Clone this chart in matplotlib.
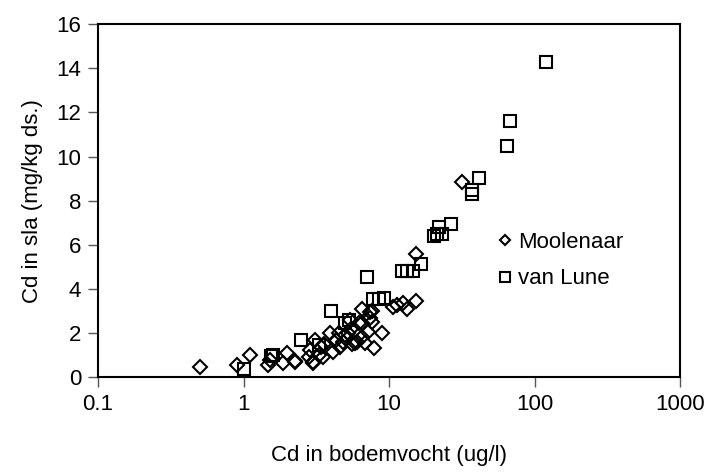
import matplotlib
matplotlib.use("Agg")
import matplotlib.pyplot as plt

# Moolenaar (open diamonds)
moolenaar_x = [0.5, 0.9, 1.1, 1.47, 1.52, 1.87, 2.0, 2.25, 2.27, 2.8, 2.85,
               3.0, 3.0, 3.1, 3.3, 3.4, 3.5, 3.6, 3.9, 4.1, 4.3, 4.5, 4.6,
               4.8, 5.0, 5.2, 5.4, 5.5, 5.6, 5.8, 6.0, 6.2, 6.5, 6.5, 6.5,
               6.8, 7.2, 7.4, 7.4, 7.6, 7.6, 7.9, 9.0, 10.6, 11.4, 12.4,
               13.3, 15.2, 15.2, 31.5]
moolenaar_y = [0.45, 0.54, 1.0, 0.54, 0.77, 0.63, 1.1, 0.72, 0.68, 0.9, 1.22,
               0.63, 0.68, 1.68, 1.0, 1.36, 0.9, 1.5, 2.0, 1.13, 1.7, 2.0,
               1.36, 1.59, 1.9, 2.0, 2.58, 2.2, 1.5, 1.54, 1.6, 2.45, 1.8,
               2.45, 3.1, 1.54, 2.05, 2.7, 2.95, 2.5, 3.0, 1.3, 2.0, 3.2,
               3.26, 3.35, 3.1, 3.45, 5.6, 8.85]

# van Lune (open squares)
vanlune_x = [1.0, 1.55, 1.6, 2.5, 3.3, 4.0, 5.0, 5.3, 7.1, 7.8, 8.5, 9.2,
             12.2, 13.3, 14.5, 16.5, 20.5, 21.5, 22.0, 23.0, 26.5, 37.0,
             37.0, 41.5, 65.0, 68.0, 119.0]
vanlune_y = [0.35, 0.95, 1.0, 1.7, 1.45, 3.0, 2.45, 2.6, 4.55, 3.55, 3.55,
             3.6, 4.8, 4.8, 4.8, 5.15, 6.4, 6.5, 6.8, 6.5, 6.95, 8.3, 8.5,
             9.05, 10.5, 11.6, 14.3]

x_ticks = [0.1, 1, 10, 100, 1000]
x_tick_labels = ["0.1", "1", "10", "100", "1000"]
y_ticks = [0, 2, 4, 6, 8, 10, 12, 14, 16]

plt.rcParams["font.family"] = ["Liberation Sans", "DejaVu Sans"]

fig = plt.figure(figsize=(7.1, 4.75), dpi=100)
ax = fig.add_axes([0.138, 0.206, 0.820, 0.743])

ax.plot(moolenaar_x, moolenaar_y, linestyle="none", marker="D",
        markersize=7, markerfacecolor="none", markeredgecolor="black",
        markeredgewidth=1.5, label="Moolenaar")
ax.plot(vanlune_x, vanlune_y, linestyle="none", marker="s",
        markersize=9, markerfacecolor="none", markeredgecolor="black",
        markeredgewidth=1.5, label="van Lune")

ax.set_xscale("log")
ax.set_xlim(0.1, 1000)
ax.set_ylim(0, 16)
ax.set_xticks(x_ticks)
ax.set_xticklabels(x_tick_labels)
ax.xaxis.set_minor_locator(matplotlib.ticker.NullLocator())
ax.set_yticks(y_ticks)

ax.tick_params(axis="both", direction="out", length=7, width=1,
               color="#555555", labelsize=16, pad=5)
for side in ["left", "bottom", "top", "right"]:
    ax.spines[side].set_linewidth(1.5)
    ax.spines[side].set_color("black")

ax.set_xlabel("Cd in bodemvocht (ug/l)", fontsize=16, labelpad=22)
ax.set_ylabel("Cd in sla (mg/kg ds.)", fontsize=16, labelpad=10)

ax.legend(loc="center left", bbox_to_anchor=(0.665, 0.33), frameon=False,
          fontsize=16, handletextpad=0.1, labelspacing=0.7,
          handlelength=1.0, borderaxespad=0, markerscale=0.8)

fig.savefig("out.png", dpi=100)
